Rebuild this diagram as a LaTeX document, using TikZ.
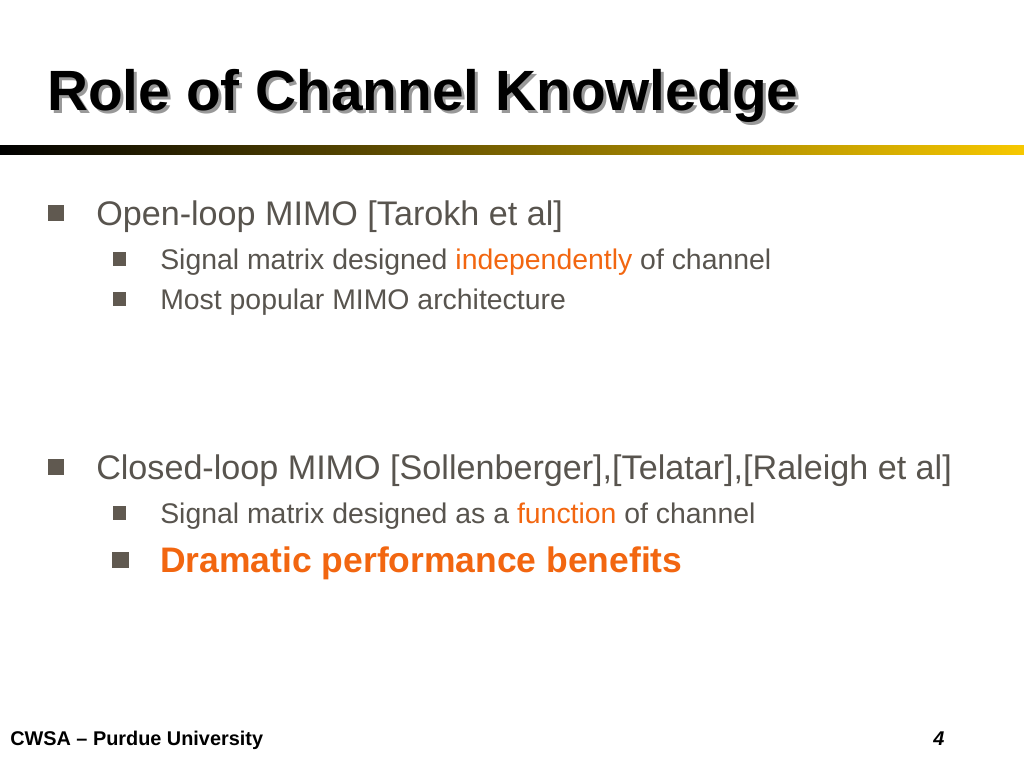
\documentclass[tikz,border=0pt]{standalone}
\usepackage{fontspec}
\setmainfont{Liberation Sans}
\usetikzlibrary{positioning}
\definecolor{slidetext}{RGB}{88,84,78}
\definecolor{bulletgray}{RGB}{96,89,80}
\definecolor{hiorange}{RGB}{242,102,16}
\definecolor{barmid}{RGB}{176,136,0}
\definecolor{bargold}{RGB}{247,200,0}
\definecolor{shadowgray}{gray}{.6}
\newcommand{\hl}[1]{\textcolor{hiorange}{#1}}
\newcommand{\sizetitle}{\fontsize{42.6}{50}\selectfont\bfseries}
\newcommand{\sizeone}{\fontsize{25.6}{30}\selectfont}
\newcommand{\sizetwo}{\fontsize{21.3}{26}\selectfont}
\newcommand{\sizefoot}{\fontsize{14.9}{18}\selectfont\bfseries}
\tikzset{
    common/.style={anchor=base west, inner sep=0pt, text=slidetext},
    title/.style={anchor=base west, inner sep=0pt, font=\sizetitle},
    levelone/.style={common, font=\sizeone},
    leveltwo/.style={common, font=\sizetwo},
    sq/.style={fill=bulletgray, inner sep=0pt, minimum size=#1},
    footer/.style={anchor=base west, inner sep=0pt, font=\sizefoot}
}

\begin{document}
\begin{tikzpicture}[x=0.75pt, y=-0.75pt]
    \useasboundingbox (0,0) rectangle (1024,768);

    \node[title, text=shadowgray] (titleshadow) at (50,113) {Role of Channel Knowledge};
    \node[title] (title) at (47,110) {Role of Channel Knowledge};
    \shade[left color=black, middle color=barmid, right color=bargold] (0,145) rectangle (1024,154);

    \node[sq=12pt] (b1) at (55.5,213) {};
    \node[levelone] (open) at (96,225) {Open-loop MIMO [Tarokh et al]};
    \node[sq=10pt] (b11) at (119.5,259) {};
    \node[leveltwo] (indep) at (160,269) {Signal matrix designed \hl{independently} of channel};
    \node[sq=10pt] (b12) at (119.5,299) {};
    \node[leveltwo] (popular) at (160,309) {Most popular MIMO architecture};

    \node[sq=12pt] (b2) at (55.5,467) {};
    \node[levelone] (closed) at (96,479) {Closed-loop MIMO [Sollenberger],[Telatar],[Raleigh et al]};
    \node[sq=10pt] (b21) at (119.5,513) {};
    \node[leveltwo] (func) at (160,523) {Signal matrix designed as a \hl{function} of channel};
    \node[sq=12.5pt] (b22) at (120.5,560) {};
    \node[common, text=hiorange, font=\fontsize{26.6}{31}\selectfont\bfseries] (dramatic) at (160,572) {Dramatic performance benefits};

    \node[footer] (footer) at (10,745) {CWSA -- Purdue University};
    \node[footer, font=\sizefoot\itshape] (pagenum) at (933,745) {4};
\end{tikzpicture}
\end{document}
